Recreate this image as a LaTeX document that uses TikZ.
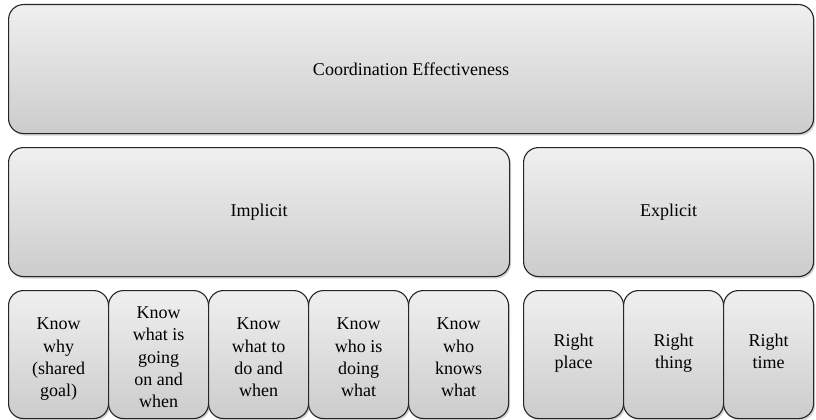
\documentclass[tikz,border=0pt]{standalone}
\usepackage{fontspec}
\setmainfont{Liberation Serif}
\usetikzlibrary{shadows}

\begin{document}
\begin{tikzpicture}[x=1pt, y=-1pt,
    box/.style={draw=black!85, line width=1.1pt, rounded corners=15pt,
      top color=black!6, bottom color=black!20,
      drop shadow={shadow xshift=1.5pt, shadow yshift=-2pt, opacity=0.35},
      anchor=north west, inner sep=2pt, align=center,
      font=\fontsize{18}{22.3}\selectfont}]
    % Define the sizes of the boxes
    \def\rowheight{129}
    \def\cellwidth{100}
    \def\lefty{8}
    \def\rightx{523}

    \useasboundingbox (0,0) rectangle (816,420);

    % Draw the top level
    \node[box, minimum width=805pt, minimum height=\rowheight pt] (coord) at (\lefty,4) {Coordination Effectiveness};

    % Draw the middle level
    \node[box, minimum width=501pt, minimum height=\rowheight pt] (implicit) at (\lefty,147) {Implicit};
    \node[box, minimum width=290pt, minimum height=\rowheight pt] (explicit) at (\rightx,147) {Explicit};

    % Draw the implicit cells
    \foreach \i/\txt in {0/{Know\\why\\(shared\\goal)},
                         1/{Know\\what is\\going\\on and\\when},
                         2/{Know\\what to\\do and\\when},
                         3/{Know\\who is\\doing\\what},
                         4/{Know\\who\\knows\\what}} {
      \node[box, minimum width=\cellwidth pt, minimum height=128pt] (know\i) at (\lefty+\i*\cellwidth,290) {\rule{0pt}{24pt}\txt\strut};
    }

    % Draw the explicit cells
    \node[box, minimum width=\cellwidth pt, minimum height=128pt] (place) at (\rightx,290) {Right\\place\strut};
    \node[box, minimum width=\cellwidth pt, minimum height=128pt] (thing) at (\rightx+\cellwidth,290) {Right\\thing\strut};
    \node[box, minimum width=90pt, minimum height=128pt] (time) at (\rightx+2*\cellwidth,290) {Right\\time\strut};
\end{tikzpicture}
\end{document}
